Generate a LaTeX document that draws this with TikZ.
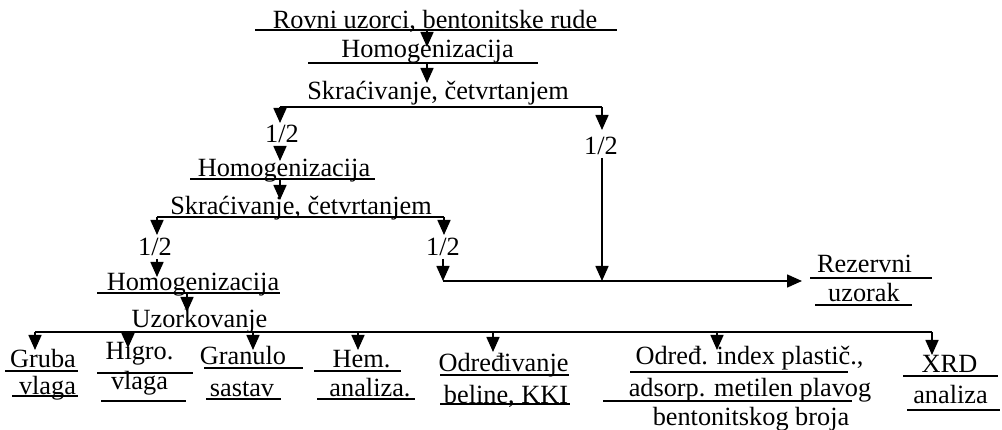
\documentclass[tikz,border=0pt]{standalone}
\usepackage{fontspec}
\setmainfont{Liberation Serif}
\usetikzlibrary{arrows.meta}
\tikzset{
  lbl/.style={inner sep=0pt, anchor=base},
  uline/.style={line width=1.5pt},
  conn/.style={line width=1.6pt},
  arr/.style={line width=1.6pt, -{Triangle[length=15pt,width=13pt]}}
}
\begin{document}
\begin{tikzpicture}[x=1pt,y=-1pt,font=\fontsize{26.3}{30}\selectfont]
\useasboundingbox (0,0) rectangle (1002,430);
% ---- texts ----
\node[lbl] (t1) at (435,29) {Rovni uzorci, bentonitske rude};
\node[lbl] (t2) at (427.5,58) {Homogenizacija};
\node[lbl] (t3) at (438,100) {Skraćivanje, četvrtanjem};
\node[lbl] (h1) at (282,143) {1/2};
\node[lbl] (h2) at (601,155) {1/2};
\node[lbl] (t6) at (284,177) {Homogenizacija};
\node[lbl] (t7) at (301,215) {Skraćivanje, četvrtanjem};
\node[lbl] (h3) at (155,256) {1/2};
\node[lbl] (h4) at (443,256) {1/2};
\node[lbl] (rez1) at (864.5,273) {Rezervni};
\node[lbl] (rez2) at (864,302) {uzorak};
\node[lbl] (t12) at (193,291) {Homogenizacija};
\node[lbl] (t13) at (199.5,328) {Uzorkovanje};
\node[lbl] (b1a) at (43,368) {Gruba};
\node[lbl] (b1b) at (47.5,395) {vlaga};
\node[lbl] (b2a) at (139.5,360) {Higro.};
\node[lbl] (b2b) at (139.5,390) {vlaga};
\node[lbl] (b3a) at (243,365) {Granulo};
\node[lbl] (b3b) at (242,396) {sastav};
\node[lbl] (b4a) at (361.5,368) {Hem.};
\node[lbl] (b4b) at (370,397) {analiza.};
\node[lbl] (b5a) at (503.5,372) {Određivanje};
\node[lbl] (b5b) at (506,403) {beline, KKI};
\node[lbl] (b6a) at (749.5,365) {Određ. index plastič.,};
\node[lbl] (b6b) at (750,397) {adsorp. metilen plavog};
\node[lbl] (b6c) at (751,425) {bentonitskog broja};
\node[lbl] (b7a) at (949.5,373) {XRD};
\node[lbl] (b7b) at (950.5,403) {analiza};
% ---- underlines ----
\draw[uline] (255,30) -- (617,30);
\draw[uline] (308,63) -- (538,63);
\draw[uline] (190,179) -- (375,179);
\draw[uline] (810,278) -- (932,278);
\draw[uline] (815,305) -- (912,305);
\draw[uline] (97,293) -- (280,293);
\draw[uline] (5,371) -- (78,371);
\draw[uline] (12,396) -- (78,396);
\draw[uline] (97,373) -- (193,373);
\draw[uline] (101,401) -- (186,401);
\draw[uline] (204,368) -- (303,368);
\draw[uline] (206,399) -- (281,399);
\draw[uline] (314,371) -- (401,371);
\draw[uline] (317,399) -- (415,399);
\draw[uline] (440,375) -- (569,375);
\draw[uline] (440,404) -- (570,404);
\draw[uline] (630,372) -- (848,372);
\draw[uline] (603,401) -- (852,401);
\draw[uline] (903,376) -- (998,376);
\draw[uline] (907,410) -- (1000,410);
% ---- connector coordinates ----
\coordinate (s1) at (427,30);
\coordinate (e1) at (427,47);
\coordinate (s2) at (427,63);
\coordinate (e2) at (427,83);
\coordinate (sp1L) at (280,107);
\coordinate (sp1R) at (602,107);
\coordinate (e3) at (280,123);
\coordinate (e4) at (602,130);
\coordinate (s5) at (280,146);
\coordinate (e5) at (280,161);
\coordinate (s6) at (602,158);
\coordinate (j1) at (602,281);
\coordinate (s7) at (280,179);
\coordinate (e7) at (280,200);
\coordinate (sp2L) at (157,217);
\coordinate (sp2R) at (444,217);
\coordinate (e8) at (157,235);
\coordinate (e9) at (444,235);
\coordinate (s10) at (157,259);
\coordinate (e10) at (157,277);
\coordinate (s11) at (443,259);
\coordinate (j2) at (443,281);
\coordinate (e12) at (802,281);
\coordinate (s13) at (187,293);
\coordinate (e13) at (187,312);
\coordinate (busL) at (35,332);
\coordinate (busR) at (932,332);
% ---- connectors ----
\draw[arr] (s1) -- (e1);
\draw[arr] (s2) -- (e2);
\draw[conn] (sp1L) -- (sp1R);
\draw[arr] (sp1L) -- (e3);
\draw[arr] (sp1R) -- (e4);
\draw[arr] (s5) -- (e5);
\draw[arr] (s6) -- (j1);
\draw[arr] (s7) -- (e7);
\draw[conn] (sp2L) -- (sp2R);
\draw[arr] (sp2L) -- (e8);
\draw[arr] (sp2R) -- (e9);
\draw[arr] (s10) -- (e10);
\draw[arr] (s11) -- (j2);
\draw[arr] (j2) -- (e12);
\draw[arr] (s13) -- (e13);
\draw[conn] (busL) -- (busR);
\foreach \x/\tip in {35/350,128/348,253/350,358/350,493/352,717/350,932/355}{
  \draw[arr] (\x,332) -- (\x,\tip);
}
\end{tikzpicture}
\end{document}
